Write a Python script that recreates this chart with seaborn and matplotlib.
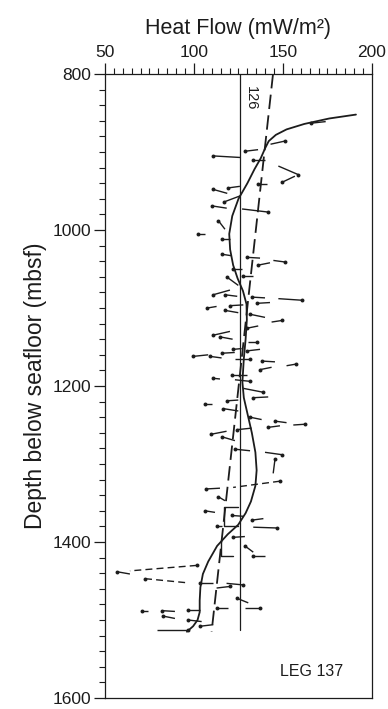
import matplotlib
matplotlib.use("Agg")
import matplotlib.pyplot as plt
from matplotlib.ticker import MultipleLocator
import seaborn as sns
import pandas as pd

sns.set_theme(style="ticks")
plt.rcParams['font.family'] = ['Liberation Sans', 'DejaVu Sans']

# smoothed heat flow profile (mW/m2 vs depth mbsf)
curve_hf = [191, 176, 162, 152, 146, 142, 140, 137.5, 134, 130, 125, 121.5, 119.8, 120.3,
            122, 124.5, 127.5, 129.5, 129.7, 129, 128, 127.2, 128, 130, 132.5, 134.5,
            135.2, 134.5, 132, 129, 124.8, 119, 113, 108, 105, 103.6, 103.2, 103.2,
            102, 99.5, 96]
curve_depth = [852, 857, 864, 871, 878, 886, 895, 908, 922, 940, 960, 982, 1005, 1025,
               1045, 1062, 1078, 1095, 1115, 1140, 1165, 1195, 1215, 1235, 1260, 1285,
               1308, 1328, 1348, 1363, 1378, 1390, 1405, 1425, 1441, 1458, 1475, 1490,
               1500, 1508, 1515]

# linear trend (dashed)
trend_hf = [144.4, 109.9]
trend_depth = [800, 1515]

# mean value line
mean_hf = 126
mean_depth = [800, 1513]

# interval heat flow segments: dot end (x0, d0) -> other end (x1, d1)
seg_x0 = [166, 151, 128.7, 110.8, 133.3, 158.6, 149.3, 136, 110.9, 119.3, 116.9, 109.9,
          141.7, 113.7, 102.4, 115.5, 115.5, 129.6, 136.1, 151.1, 122, 118.3, 127.7,
          110.8, 117.4, 132.4, 135.2, 160.5, 107.5, 120.2, 117.4, 131.5, 149.3, 129.6,
          110.5, 114.6, 135.2, 122.1, 129.6, 99.6, 109, 115.5, 131.5, 138, 137.1, 157.1,
          110.5, 121.2, 131.5, 138.9, 133.3, 106.2, 118.3, 116.5, 131.5, 141.7, 145.5,
          162.4, 109.3, 124, 115.5, 123, 149.3, 145.5, 106.7, 113.7, 106.2, 121.2, 132.4,
          146.4, 112.7, 122, 128.6, 133.3, 103.4, 127.7, 120.2, 124, 70.6, 81.8, 82.7,
          96.8, 112.7, 137.1, 96.8, 103.4, 96.8, 56.5]
seg_d0 = [863, 886, 899, 905, 910, 929, 939, 941, 948, 946, 964, 969,
          977, 988, 1005, 1011, 1031, 1035, 1045, 1041, 1050, 1060, 1059,
          1083, 1083, 1086, 1094, 1090, 1100, 1097, 1103, 1108, 1116, 1126,
          1135, 1137, 1144, 1153, 1155, 1162, 1162, 1158, 1166, 1168, 1179, 1172,
          1190, 1186, 1194, 1208, 1215, 1223, 1219, 1229, 1240, 1253, 1245,
          1249, 1262, 1256, 1265, 1281, 1288, 1294, 1332, 1342, 1360, 1366, 1372,
          1382, 1379, 1394, 1405, 1418, 1452, 1455, 1457, 1472, 1489, 1488, 1495,
          1487, 1485, 1485, 1500, 1508, 1513, 1438]
seg_x1 = [174, 143, 136, 126, 140, 147.4, 156.7, 141, 118.7, 125.8, 126.2, 118.4,
          127, 117.4, 106.2, 120.2, 121.2, 137.1, 142.7, 144.6, 126.8, 124.9, 133.3,
          120.2, 124.3, 139.9, 142.7, 147.4, 112.7, 127.7, 124.9, 139.9, 143.6, 136.1,
          120.2, 121.7, 130.5, 126.8, 137.1, 108, 115.5, 122.9, 123, 145.5, 143.6, 152,
          114.6, 129.6, 123, 127.7, 141.7, 109.9, 124.9, 124.9, 138, 148.3, 152,
          155.8, 118.3, 132.4, 123, 131.5, 139.9, 144.5, 114.6, 117.4, 111.8, 127.7, 139,
          133.3, 116, 128.6, 133.3, 139.9, 110.9, 118.3, 112.7, 130.5, 74.4, 89.3, 89.3,
          103.4, 119.3, 128.7, 104.3, 110.8, 79, 64]
seg_d1 = [861, 890, 897, 907, 910, 918, 931, 941, 953, 944, 956, 972,
          973, 999, 1005, 1011, 1033, 1036, 1042, 1039, 1050, 1071, 1059,
          1077, 1085, 1087, 1093, 1088, 1098, 1096, 1106, 1112, 1118, 1123,
          1130, 1140, 1144, 1152, 1153, 1160, 1164, 1157, 1166, 1169, 1176, 1174,
          1191, 1186, 1192, 1203, 1214, 1223, 1218, 1232, 1243, 1251, 1247,
          1250, 1258, 1254, 1270, 1283, 1285, 1312, 1331, 1347, 1362, 1367, 1370,
          1381, 1379, 1393, 1413, 1418, 1452, 1453, 1459, 1478, 1489, 1489, 1498,
          1487, 1485, 1485, 1502, 1506, 1513, 1441]

# dashed interval segments (dot at first end)
dash_x0 = [148.3, 101.5, 72.5]
dash_d0 = [1322, 1430, 1447]
dash_x1 = [122, 64, 95]
dash_d1 = [1330, 1437, 1452]

# step brackets attached to the mean line
step1_hf = [124.9, 117, 117, 124.9]
step1_depth = [1355, 1355, 1379, 1379]
step2_hf = [115.2, 115.2, 122.1]
step2_depth = [1400, 1418, 1418]

ink = "#1c1c1c"

fig = plt.figure(figsize=(3.88, 7.09), dpi=100)
ax = fig.add_axes([0.2706, 0.0155, 0.6881, 0.8801])

# mean line and label
ax.plot([mean_hf, mean_hf], mean_depth, color=ink, lw=0.9)
ax.text(mean_hf + 1.8, 816, "126", rotation=270, ha="left", va="top",
        fontsize=10.5, color=ink)

# linear trend
ax.plot(trend_hf, trend_depth, color=ink, lw=1.3, dashes=(8, 3.5))

# smooth profile
curve = pd.DataFrame({"hf": curve_hf, "depth": curve_depth})
sns.lineplot(data=curve, x="hf", y="depth", sort=False, estimator=None,
             color=ink, lw=1.3, ax=ax)

# interval segments
for x0, d0, x1, d1 in zip(seg_x0, seg_d0, seg_x1, seg_d1):
    ax.plot([x0, x1], [d0, d1], color=ink, lw=1.0, solid_capstyle="butt")
for x0, d0, x1, d1 in zip(dash_x0, dash_d0, dash_x1, dash_d1):
    ax.plot([x0, x1], [d0, d1], color=ink, lw=1.0, dashes=(5, 3))
ax.plot(step1_hf, step1_depth, color=ink, lw=1.0)
ax.plot(step2_hf, step2_depth, color=ink, lw=1.0)

dots = pd.DataFrame({"hf": seg_x0 + dash_x0, "depth": seg_d0 + dash_d0})
sns.scatterplot(data=dots, x="hf", y="depth", color=ink, s=8, linewidth=0, ax=ax)

ax.text(183.7, 1572, "LEG 137", ha="right", va="baseline", fontsize=11.5, color=ink)

ax.set_xlim(50, 200)
ax.set_ylim(1600, 800)
ax.xaxis.set_label_position("top")
ax.xaxis.tick_top()
ax.set_xlabel("Heat Flow (mW/m²)", fontsize=15.5, labelpad=8, color=ink)
ax.set_ylabel("Depth below seafloor (mbsf)", fontsize=16.5, labelpad=4, color=ink)
ax.set_xticks([50, 100, 150, 200])
ax.xaxis.set_minor_locator(MultipleLocator(5))
ax.set_yticks([800, 1000, 1200, 1400, 1600])
ax.yaxis.set_minor_locator(MultipleLocator(20))
ax.tick_params(which="major", direction="out", length=8, width=0.9, color=ink,
               labelsize=12.5, labelcolor=ink, pad=2)
ax.tick_params(which="minor", direction="out", length=4, width=0.8, color=ink)
ax.tick_params(axis="x", which="both", top=True, bottom=False)
ax.tick_params(axis="y", which="both", left=True, right=False)
for sp in ax.spines.values():
    sp.set_visible(True)
    sp.set_color(ink)
    sp.set_linewidth(0.9)

fig.savefig("out.png", dpi=100)
